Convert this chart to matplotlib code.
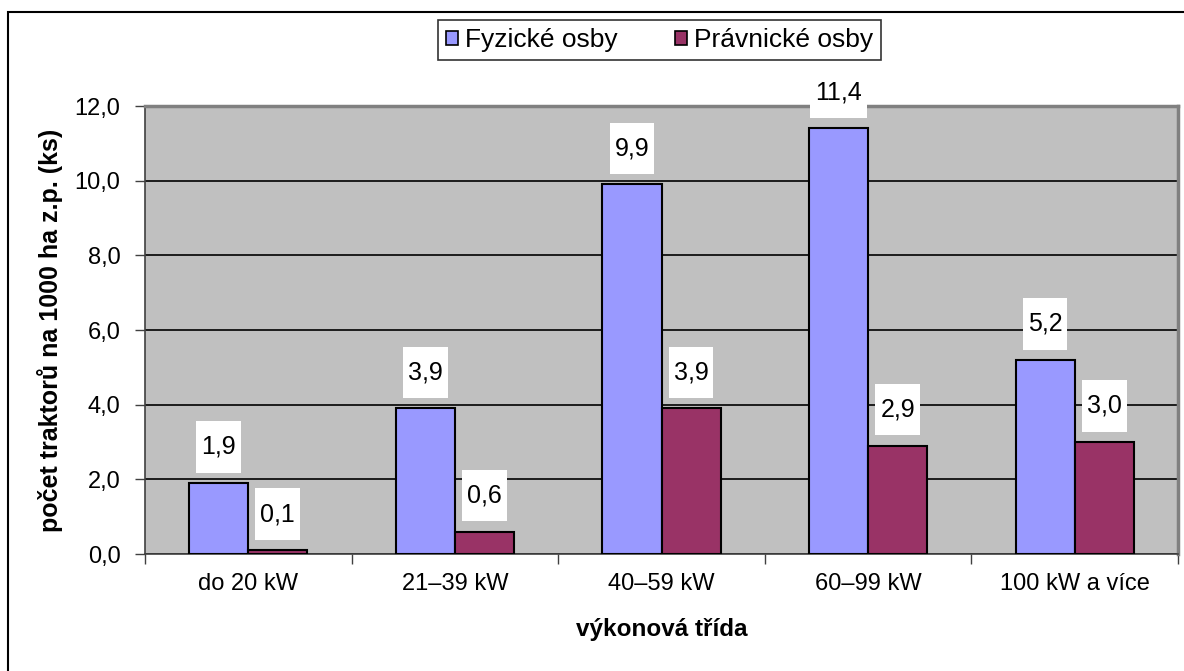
import numpy as np
import matplotlib
matplotlib.use('Agg')
import matplotlib.pyplot as plt
from matplotlib.patches import Rectangle
from matplotlib.path import Path
from matplotlib.ticker import FixedLocator, FuncFormatter

plt.rcParams['font.family'] = ['Liberation Sans', 'DejaVu Sans']

# data
kategorie = ['do 20 kW', '21–39 kW', '40–59 kW', '60–99 kW', '100 kW a více']
fyzicke = [1.9, 3.9, 9.9, 11.4, 5.2]
pravnicke = [0.1, 0.6, 3.9, 2.9, 3.0]
serie_nazvy = ['Fyzické osby', 'Právnické osby']
barvy = ['#9999FF', '#993366']

def carka(v):
    return ('%.1f' % v).replace('.', ',')

# bily obdelnik za popiskem, vic mista nahore a dole
def box_popisek(x0, y0, width, height, mutation_size):
    px = 0.2 * mutation_size
    py = 0.55 * mutation_size
    x1, y1 = x0 - px, y0 - py
    x2, y2 = x0 + width + px, y0 + height + py
    return Path([(x1, y1), (x2, y1), (x2, y2), (x1, y2), (x1, y1)], closed=True)

def main():
    fig = plt.figure(figsize=(11.84, 6.71), dpi=100)
    ax = fig.add_axes([145/1184, 1-554/671, (1178-145)/1184, (554-106)/671])
    ax.set_facecolor('#C0C0C0')

    x = np.arange(len(kategorie))
    w = 1/3.5
    b1 = ax.bar(x - w/2, fyzicke, w, color=barvy[0], edgecolor='black', linewidth=1.5,
                label=serie_nazvy[0], zorder=3)
    b2 = ax.bar(x + w/2, pravnicke, w, color=barvy[1], edgecolor='black', linewidth=1.5,
                label=serie_nazvy[1], zorder=3)

    # popisky hodnot
    for bars, vals in ((b1, fyzicke), (b2, pravnicke)):
        for r, v in zip(bars, vals):
            ax.annotate(carka(v), (r.get_x() + r.get_width()/2, v), xytext=(0, 26),
                        textcoords='offset points', ha='center', va='center', fontsize=18,
                        bbox=dict(boxstyle=box_popisek, fc='white', ec='none'),
                        zorder=4)

    ax.set_ylim(0, 12)
    ax.set_xlim(-0.5, len(kategorie) - 0.5)
    ax.yaxis.set_major_locator(FixedLocator(np.arange(0, 12.1, 2)))
    ax.yaxis.set_major_formatter(FuncFormatter(lambda v, p: carka(v)))
    ax.yaxis.grid(True, color='black', linewidth=1.2, zorder=1)
    ax.set_axisbelow(True)

    ax.set_xticks(x)
    ax.set_xticklabels(kategorie)
    ax.set_xticks(np.arange(-0.5, len(kategorie)), minor=True)
    ax.tick_params(axis='x', which='major', length=0, pad=14, labelsize=17)
    ax.tick_params(axis='x', which='minor', length=7.2, width=1, color='#404040')
    ax.tick_params(axis='y', length=7.2, width=1, color='#404040', labelsize=17, pad=10.5)

    for s in ('top', 'right'):
        ax.spines[s].set_color('#808080')
        ax.spines[s].set_linewidth(2.5)
    ax.spines['left'].set_color('#404040')
    ax.spines['left'].set_linewidth(1.2)
    ax.spines['bottom'].set_color('#404040')
    ax.spines['bottom'].set_linewidth(1.2)

    ax.set_xlabel('výkonová třída', fontsize=17.5, fontweight='bold', labelpad=16)
    ax.set_ylabel('počet traktorů na 1000 ha z.p. (ks)', fontsize=18, fontweight='bold', labelpad=8)

    leg = fig.legend(loc='center', bbox_to_anchor=(659.5/1184, 1-40/671), ncol=2,
                     fontsize=19, frameon=True, fancybox=False, edgecolor='black',
                     handlelength=0.45, handleheight=0.45, handletextpad=0.25,
                     columnspacing=2.2, borderpad=0.3)
    leg.get_frame().set_linewidth(1.2)
    for h in leg.legend_handles:
        h.set_edgecolor('black')
        h.set_linewidth(1.2)

    # ramecek grafu
    fig.patches.append(Rectangle((8/1184, -0.1), 1.2, 1.1 - 12/671, transform=fig.transFigure,
                                 fill=False, ec='black', lw=1.5))

    fig.savefig('out.png', dpi=100, facecolor='white')

if __name__ == '__main__':
    main()
